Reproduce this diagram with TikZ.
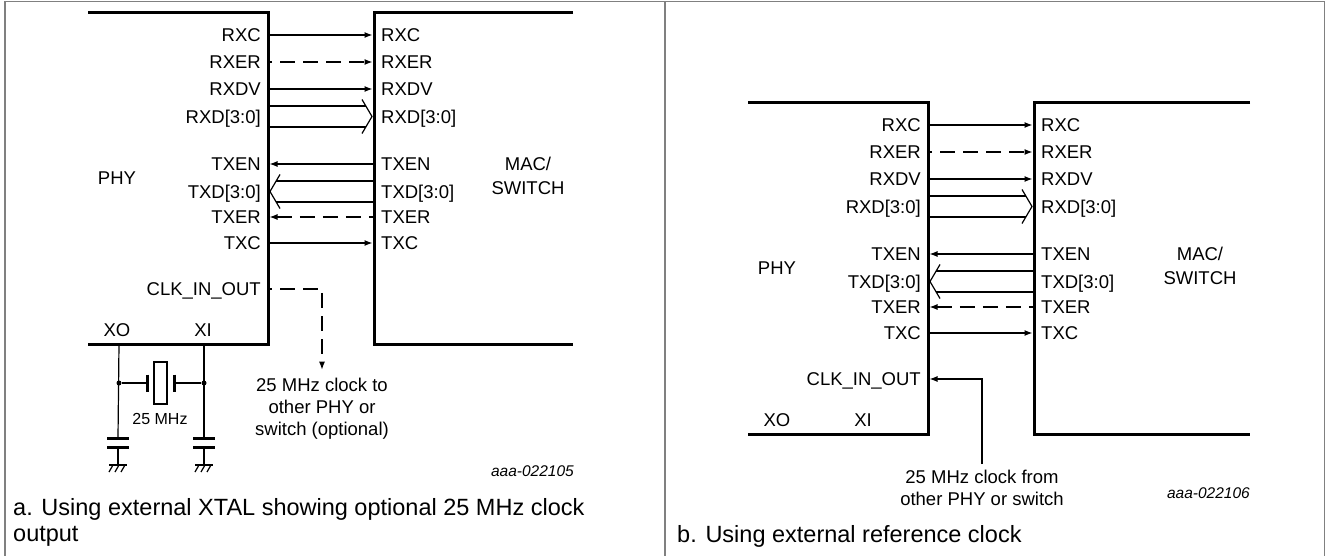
\documentclass[tikz,border=0pt]{standalone}
\usepackage{fontspec}
\setmainfont{Liberation Sans}
\usetikzlibrary{arrows.meta}
\usetikzlibrary{positioning}

\begin{document}
\begin{tikzpicture}[x=1pt, y=-1pt, font=\fontsize{18.5}{22}\selectfont, >={Latex[length=8pt, width=6pt]}]
	\tikzstyle{frameStyle} = [draw=black!50, line width=1.6pt]
	\tikzstyle{blockStyle} = [line width=3pt]
	\tikzstyle{wireStyle} = [line width=1.2pt]
	\tikzstyle{rxStyle} = [wireStyle, ->, shorten >=1.5pt]
	\tikzstyle{txStyle} = [wireStyle, <-, shorten <=1.5pt]
	\tikzstyle{rxDashed} = [rxStyle, dash pattern=on 15pt off 8pt, dash phase=11pt]
	\tikzstyle{txDashed} = [txStyle, dash pattern=on 15pt off 8pt]
	\tikzstyle{pinStyle} = [inner sep=0pt, text height=13.2pt, text depth=0pt]
	\tikzstyle{dotStyle} = [circle, fill, inner sep=0pt, minimum size=5pt]
	\tikzstyle{idStyle} = [font=\fontsize{15.5}{18}\selectfont\itshape, anchor=east, inner sep=0pt]
	\tikzstyle{captionStyle} = [font=\fontsize{23.5}{26}\selectfont, anchor=base west, align=left, inner sep=0pt]
	\useasboundingbox (0,0) rectangle (1326,556);
	% frame of both panels
	\draw[frameStyle] (5,556) -- (5,1.5) -- (1324.5,1.5) -- (1324.5,556);
	\draw[frameStyle] (665,1.5) -- (665,556);
	% PHY and MAC with their MII signals, panel a and panel b
	\foreach \p/\dx/\dy/\mr/\mx in {a/0/0/573/528, b/660/90/590/540}{
	\begin{scope}[shift={(\dx,\dy)}]
		\draw[blockStyle] (88,13) -- (268,13) -- (268,344) -- (88,344);
		\draw[blockStyle] (\mr,13) -- (374,13) -- (374,344) -- (\mr,344);
		\node (phy-\p) at (117,178) {PHY};
		\node[align=center, font=\fontsize{18.5}{24}\selectfont] (mac-\p) at (\mx,176) {MAC/\\SWITCH};
		\node (xo-\p) at (117,330) {XO};
		\node (xi-\p) at (203,330) {XI};
		\foreach \s/\y/\st in {RXC/35/rxStyle, RXER/62/rxDashed, RXDV/89/rxStyle, TXEN/164/txStyle, TXER/217/txDashed, TXC/243/rxStyle}{
			\coordinate (p\s-\p) at (268,\y);
			\coordinate (m\s-\p) at (374,\y);
			\node[pinStyle, left=7pt of p\s-\p] (lp\s-\p) {\s};
			\node[pinStyle, right=7pt of m\s-\p] (lm\s-\p) {\s};
			\draw[style/.expanded=\st] (p\s-\p) -- (m\s-\p);
		}
		% receive data bus
		\coordinate (pRXD-\p) at (268,116.5);
		\coordinate (mRXD-\p) at (374,116.5);
		\node[pinStyle, left=7pt of pRXD-\p] (lpRXD-\p) {RXD[3:0]};
		\node[pinStyle, right=7pt of mRXD-\p] (lmRXD-\p) {RXD[3:0]};
		\draw[wireStyle] ([yshift=10.5pt]pRXD-\p) -- ([xshift=-8pt, yshift=10.5pt]mRXD-\p);
		\draw[wireStyle] ([yshift=-10.5pt]pRXD-\p) -- ([xshift=-8pt, yshift=-10.5pt]mRXD-\p);
		\draw[wireStyle] ([xshift=-12pt, yshift=17pt]mRXD-\p) -- ([xshift=-2pt]mRXD-\p) -- ([xshift=-12pt, yshift=-17pt]mRXD-\p);
		% transmit data bus
		\coordinate (pTXD-\p) at (268,191.5);
		\coordinate (mTXD-\p) at (374,191.5);
		\node[pinStyle, left=7pt of pTXD-\p] (lpTXD-\p) {TXD[3:0]};
		\node[pinStyle, right=7pt of mTXD-\p] (lmTXD-\p) {TXD[3:0]};
		\draw[wireStyle] ([xshift=8pt, yshift=10.5pt]pTXD-\p) -- ([yshift=10.5pt]mTXD-\p);
		\draw[wireStyle] ([xshift=8pt, yshift=-10.5pt]pTXD-\p) -- ([yshift=-10.5pt]mTXD-\p);
		\draw[wireStyle] ([xshift=12pt, yshift=17pt]pTXD-\p) -- ([xshift=2pt]pTXD-\p) -- ([xshift=12pt, yshift=-17pt]pTXD-\p);
		% clock pin
		\coordinate (pCLK-\p) at (268,289);
		\node[pinStyle, left=7pt of pCLK-\p] (lpCLK-\p) {CLK\_IN\_OUT};
	\end{scope}
	}
	% panel a: optional clock output
	\node[align=center, inner sep=0pt] (clkOut) at (322,409) {25 MHz clock to\\other PHY or\\switch (optional)};
	\draw[wireStyle, ->, dash pattern=on 15pt off 8pt, dash phase=11pt, shorten >=8.5pt] (pCLK-a) -| (clkOut.north);
	% panel a: crystal with load capacitors
	\coordinate (xoPin) at (119,344);
	\coordinate (xiPin) at (204,344);
	\node[dotStyle] (xoDot) at (119,383) {};
	\node[dotStyle] (xiDot) at (204,383) {};
	\coordinate (plateL) at (147,383);
	\coordinate (plateR) at (174,383);
	\node[draw, line width=1.2pt, minimum width=13pt, minimum height=42pt, inner sep=0pt] (xtal) at (160.5,383) {};
	\node[font=\fontsize{16}{18}\selectfont] (xtalFreq) at (160,419) {25 MHz};
	\draw[blockStyle] ([yshift=8.5pt]plateL) -- ([yshift=-8.5pt]plateL);
	\draw[blockStyle] ([yshift=8.5pt]plateR) -- ([yshift=-8.5pt]plateR);
	\draw[wireStyle] (xoDot) -- (plateL);
	\draw[wireStyle] (plateR) -- (xiDot);
	\coordinate (capXO) at (118,442.5);
	\coordinate (capXI) at (204,442.5);
	\coordinate (gndXO) at (118,465);
	\coordinate (gndXI) at (204,465);
	\draw[wireStyle] (xoPin) -- ([yshift=4.5pt]capXO);
	\draw[wireStyle] (xiPin) -- ([yshift=4.5pt]capXI);
	\foreach \c/\g in {capXO/gndXO, capXI/gndXI}{
		\draw[blockStyle] ([xshift=-11pt, yshift=4.5pt]\c) -- ([xshift=11pt, yshift=4.5pt]\c);
		\draw[blockStyle] ([xshift=-11pt, yshift=-4.5pt]\c) -- ([xshift=11pt, yshift=-4.5pt]\c);
		\draw[wireStyle] ([yshift=-4.5pt]\c) -- (\g);
		\draw[wireStyle] ([xshift=-9pt]\g) -- ([xshift=9pt]\g);
		\foreach \k in {-5,1,7}
			\draw[wireStyle] ([xshift=\k pt]\g) -- ([xshift={(\k-4)*1pt}, yshift=-7pt]\g);
	}
	% panel b: external reference clock
	\node[align=center, inner sep=0pt] (clkIn) at (982,488) {25 MHz clock from\\other PHY or switch};
	\draw[wireStyle, ->, shorten <=6pt, shorten >=1.5pt] (clkIn.north) |- (pCLK-b);
	% drawing numbers and captions
	\node[idStyle] (idA) at (574,471) {aaa-022105};
	\node[idStyle] (idB) at (1250,493) {aaa-022106};
	\node[captionStyle] (capA) at (13,541) {a. Using external XTAL showing optional 25 MHz clock\\output};
	\node[captionStyle] (capB) at (677,542) {b. Using external reference clock};
\end{tikzpicture}
\end{document}
